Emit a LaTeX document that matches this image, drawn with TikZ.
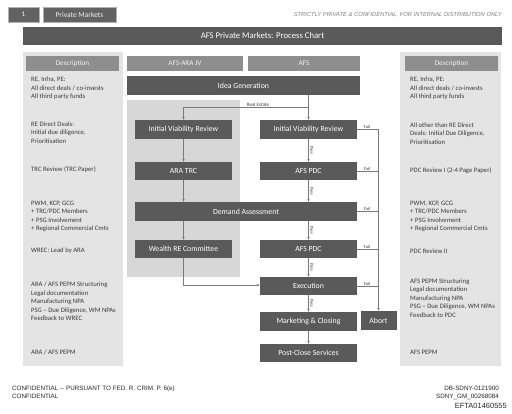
\documentclass[tikz,border=0pt]{standalone}
\usepackage{fontspec}
\setmainfont{Carlito}
\newfontfamily\arialf{Liberation Sans}
\usetikzlibrary{arrows.meta,calc}
\definecolor{darkbox}{HTML}{5A5A5A}
\definecolor{hdrbox}{HTML}{8E8E8E}
\definecolor{panel}{HTML}{E4E4E4}
\definecolor{jvpanel}{HTML}{D7D7D7}
\definecolor{desctext}{HTML}{3A3A3A}
\definecolor{linegray}{HTML}{7A7A7A}
\tikzset{
  dbox/.style={fill=darkbox, text=white, inner sep=0pt, font=\fontsize{7.8}{9}\selectfont, minimum width=97pt, minimum height=19pt},
  hbox/.style={fill=hdrbox, text=white!90!gray, inner sep=0pt, font=\fontsize{7.2}{8}\selectfont, minimum height=15pt},
  desc/.style={anchor=west, align=left, inner sep=0pt, text=desctext, font=\fontsize{6.7}{8.5}\selectfont},
  conn/.style={draw=linegray, line width=0.5pt, -{Stealth[length=3pt,width=2.4pt]}},
  plain/.style={draw=linegray, line width=0.5pt},
  tiny/.style={inner sep=0.5pt, text=desctext, font=\fontsize{4.5}{5}\selectfont},
  foot/.style={inner sep=0pt, text=black!85, font=\arialf\fontsize{6.3}{7}\selectfont}
}
\begin{document}
\begin{tikzpicture}[x=1pt,y=-1pt]
\useasboundingbox (0,0) rectangle (512,413);
\fill[white] (0,0) rectangle (512,413);
% top tabs
\node[fill=darkbox!95!white, draw=gray!60, line width=0.3pt, text=white, inner sep=0pt, minimum width=31pt, minimum height=15pt, font=\fontsize{7}{8}\selectfont] (tabone) at (23.5,14.5) {1};
\node[fill=darkbox!95!white, draw=gray!60, line width=0.3pt, text=white!90!gray, inner sep=0pt, minimum width=73pt, minimum height=15pt, font=\fontsize{7.5}{8}\selectfont] (tabpm) at (79.5,14.5) {Private Markets};
\node[anchor=east, inner sep=0pt, text=gray, font=\arialf\itshape\fontsize{5.8}{6}\selectfont] (conf) at (502,15) {STRICTLY PRIVATE \& CONFIDENTIAL, FOR INTERNAL DISTRIBUTION ONLY};
% title
\node[fill=darkbox, text=white, inner sep=0pt, minimum width=479pt, minimum height=18pt, font=\fontsize{8.7}{10}\selectfont] (title) at (262.5,36) {AFS Private Markets: Process Chart};
% panels
\fill[panel] (23,52) rectangle (123,366);
\fill[panel] (400,52) rectangle (501,366);
\fill[jvpanel] (127,100) rectangle (240,277);
% headers
\node[hbox, minimum width=93pt] (hdl) at (72.5,63.5) {Description};
\node[hbox, minimum width=116pt] (hjv) at (185,63.5) {AFS-ARA JV};
\node[hbox, minimum width=112pt] (hafs) at (304,63.5) {AFS};
\node[hbox, minimum width=93pt] (hdr) at (451.5,63.5) {Description};
% process boxes
\node[dbox, minimum width=233pt] (idea) at (243.5,85.5) {Idea Generation};
\node[dbox] (araivr) at (183.5,129.5) {Initial Viability Review};
\node[dbox, minimum height=18pt] (aratrc) at (183.5,171) {ARA TRC};
\node[dbox, minimum width=222pt] (demand) at (246,211.5) {Demand Assessment};
\node[dbox, minimum height=18pt] (wrec) at (183.5,249) {Wealth RE Committee};
\node[dbox] (afsivr) at (308.5,129.5) {Initial Viability Review};
\node[dbox, minimum height=18pt] (pdca) at (308.5,171) {AFS PDC};
\node[dbox, minimum height=18pt] (pdcb) at (308.5,249) {AFS PDC};
\node[dbox, minimum height=18pt] (exec) at (308.5,286) {Execution};
\node[dbox] (mkt) at (308.5,321.5) {Marketing \& Closing};
\node[dbox, minimum height=18pt] (post) at (308.5,353) {Post-Close Services};
\node[dbox, minimum width=36pt] (abort) at (378.5,320.5) {Abort};
% connectors ARA column
\coordinate (rebr) at (308.5,107);
\draw[conn] (idea.south -| afsivr) -- (afsivr);
\draw[conn] (rebr) -| (araivr);
\node[tiny, anchor=south, font=\fontsize{5}{6}\selectfont] (relabel) at (258,107) {Real Estate};
\draw[conn] (araivr) -- (aratrc);
\draw[conn] (aratrc) -- (aratrc |- demand.north);
\draw[conn] (wrec |- demand.south) -- (wrec);
\coordinate (wrecturn) at (183.5,285);
\draw[conn] (wrec) -- (wrecturn) -- (wrecturn -| exec.west);
% AFS column with Pass labels
\draw[conn] (afsivr) -- (pdca) node[midway, right=1pt, tiny, rotate=-90, anchor=south] (p1) {Pass};
\draw[conn] (pdca) -- (pdca |- demand.north) node[midway, right=1pt, tiny, rotate=-90, anchor=south] (p2) {Pass};
\draw[conn] (pdcb |- demand.south) -- (pdcb) node[midway, right=1pt, tiny, rotate=-90, anchor=south] (p3) {Pass};
\draw[conn] (pdcb) -- (exec) node[midway, right=1pt, tiny, rotate=-90, anchor=south] (p4) {Pass};
\draw[conn] (exec) -- (mkt) node[midway, right=1pt, tiny, rotate=-90, anchor=south] (p5) {Pass};
\draw[conn] (mkt) -- (post);
% Fail lines
\coordinate (ftop) at (378.5,129.5);
\draw[conn] (afsivr.east) -- (ftop) -- (abort.north);
\draw[plain] (pdca.east) -- (pdca.east -| ftop);
\draw[plain] (demand.east) -- (demand.east -| ftop);
\draw[plain] (pdcb.east) -- (pdcb.east -| ftop);
\draw[plain] (exec.east) -- (exec.east -| ftop);
\node[tiny, anchor=south] (f1) at (367,129.5) {Fail};
\node[tiny, anchor=south] (f2) at (367,171) {Fail};
\node[tiny, anchor=south] (f3) at (367,211.5) {Fail};
\node[tiny, anchor=south] (f4) at (367,249) {Fail};
\node[tiny, anchor=south] (f5) at (367,286) {Fail};
% left descriptions
\node[desc] (l1) at (31,88.5) {RE, Infra, PE:\\All direct deals / co-invests\\All third party funds};
\node[desc] (l2) at (31,132.5) {RE Direct Deals:\\Initial due diligence,\\Prioritisation};
\node[desc] (l3) at (31,170) {TRC Review (TRC Paper)};
\node[desc] (l4) at (31,216.5) {PWM, KCP, GCG\\+ TRC/PDC Members\\+ PSG Involvement\\+ Regional Commercial Cmts};
\node[desc] (l5) at (31,251) {WREC: Lead by ARA};
\node[desc] (l6) at (31,301.5) {ARA / AFS PEPM Structuring\\Legal documentation\\Manufacturing NPA\\PSG -- Due Diligence, WM NPAs\\Feedback to WREC};
\node[desc] (l7) at (31,352) {ARA / AFS PEPM};
% right descriptions
\node[desc] (r1) at (410,88.5) {RE, Infra, PE:\\All direct deals / co-invests\\All third party funds};
\node[desc] (r2) at (410,133.5) {All other than RE Direct\\Deals: Initial Due Diligence,\\Prioritisation};
\node[desc] (r3) at (410,171) {PDC Review I (2-4 Page Paper)};
\node[desc] (r4) at (410,216.5) {PWM, KCP, GCG\\+ TRC/PDC Members\\+ PSG Involvement\\+ Regional Commercial Cmts};
\node[desc] (r5) at (410,251) {PDC Review II};
\node[desc] (r6) at (410,298) {AFS PEPM Structuring\\Legal documentation\\Manufacturing NPA\\PSG -- Due Diligence, WM NPAs\\Feedback to PDC};
\node[desc] (r7) at (410,352) {AFS PEPM};
% footer
\node[foot, anchor=west] (fl1) at (12,388.5) {CONFIDENTIAL -- PURSUANT TO FED. R. CRIM. P. 6(e)};
\node[foot, anchor=west] (fl2) at (12,396.5) {CONFIDENTIAL};
\node[foot, anchor=east] (fr1) at (499,388.5) {DB-SDNY-0121900};
\node[foot, anchor=east] (fr2) at (499,396.5) {SDNY\_GM\_00268084};
\node[foot, anchor=east, font=\arialf\fontsize{7.5}{8}\selectfont] (fr3) at (507,405.5) {EFTA01460555};
\end{tikzpicture}
\end{document}
